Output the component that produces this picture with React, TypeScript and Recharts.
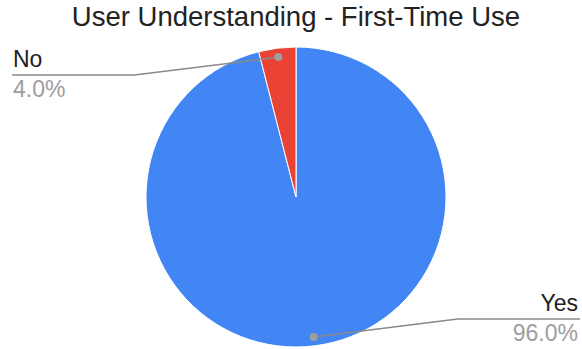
import React from 'react';
import { PieChart, Pie, Cell } from 'recharts';

// ============================================================================
// DATA
// ============================================================================

const ANSWERS = ['Yes', 'No'];
const SHARES = [96.0, 4.0];
const COLORS = ['#4285f4', '#ea4335'];

const data = ANSWERS.map((name, i) => ({ name, value: SHARES[i] }));

const WIDTH = 582;
const HEIGHT = 349;
const RAD = Math.PI / 180;
const FONT = '"Liberation Sans", Arial, sans-serif';

// ============================================================================
// LABEL
// ============================================================================

const renderLabel = (props: any) => {
  const { cx, cy, midAngle, outerRadius, name, percent, index } = props;
  const r = outerRadius - 9;
  const dx = r * Math.cos(-midAngle * RAD);
  const dy = r * Math.sin(-midAngle * RAD);
  const px = cx + dx;
  const py = cy + dy;
  const left = dx < 0;
  const elbowX = left ? px - 144 : px + 144;
  const elbowY = dy < 0 ? py + 18 : py - 18;
  const endX = left ? 12 : WIDTH - 2;
  const textX = left ? 13 : WIDTH - 4;
  const anchor = left ? 'start' : 'end';

  return (
    <g key={`lbl-${index}`}>
      <polyline
        points={`${px},${py} ${elbowX},${elbowY} ${endX},${elbowY}`}
        fill="none"
        stroke="#8a8a8a"
        strokeWidth={1.5}
      />
      <circle cx={px} cy={py} r={4} fill="#9e9e9e" />
      <text
        x={textX}
        y={elbowY - 8}
        textAnchor={anchor}
        fill="#222222"
        fontSize={23}
        fontFamily={FONT}
      >
        {name}
      </text>
      <text
        x={textX}
        y={elbowY + 22}
        textAnchor={anchor}
        fill="#9e9e9e"
        fontSize={23}
        fontFamily={FONT}
      >
        {`${(percent * 100).toFixed(1)}%`}
      </text>
    </g>
  );
};

// ============================================================================
// COMPONENT
// ============================================================================

export default function App() {
  return (
    <div style={{ position: 'relative', width: WIDTH, height: HEIGHT, background: '#fff' }}>
      <style>{'body{margin:0}'}</style>
      <div
        style={{
          position: 'absolute',
          top: 1,
          left: 0,
          width: WIDTH + 10,
          textAlign: 'center',
          fontFamily: FONT,
          fontSize: 27.5,
          color: '#222222',
          whiteSpace: 'nowrap',
        }}
      >
        User Understanding - First-Time Use
      </div>
      <PieChart
        width={WIDTH}
        height={HEIGHT}
        margin={{ top: 0, right: 0, bottom: 0, left: 0 }}
        style={{ position: 'absolute', top: 0, left: 0 }}
      >
        <Pie
          data={data}
          dataKey="value"
          nameKey="name"
          cx={296}
          cy={197}
          outerRadius={150}
          startAngle={90}
          endAngle={-270}
          stroke="#ffffff"
          strokeWidth={1}
          label={renderLabel}
          labelLine={false}
          isAnimationActive={false}
        >
          {data.map((d, i) => (
            <Cell key={d.name} fill={COLORS[i]} />
          ))}
        </Pie>
      </PieChart>
    </div>
  );
}
